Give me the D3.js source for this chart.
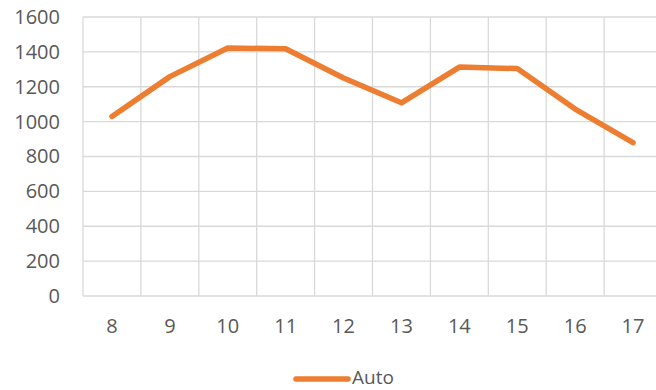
<!DOCTYPE html>
<html>
<head>
<meta charset="utf-8">
<script src="https://cdn.jsdelivr.net/npm/d3@7"></script>
<style>
  html, body { margin: 0; padding: 0; background: #fff; overflow: hidden; }
  text { font-family: "Open Sans", "Liberation Sans", sans-serif; fill: #595959; }
</style>
</head>
<body>
<svg id="chart" width="656" height="390"></svg>
<script>
const categories = ["8", "9", "10", "11", "12", "13", "14", "15", "16", "17"];
const seriesName = "Auto";
const autoValues = [1030, 1258, 1422, 1418, 1250, 1108, 1313, 1304, 1072, 880];
const yTicks = [0, 200, 400, 600, 800, 1000, 1200, 1400, 1600];

const svg = d3.select("#chart");
const plot = { left: 83, top: 17, right: 662, bottom: 296 };
const color = "#ED7D31";
const gridColor = "#d9d9d9";
const fontSize = "20px";

const x = d3.scaleBand().domain(categories).range([plot.left, plot.right]);
const y = d3.scaleLinear().domain([0, 1600]).range([plot.bottom, plot.top]);

// horizontal gridlines
svg.append("g").selectAll("line").data(yTicks).join("line")
  .attr("x1", plot.left).attr("x2", plot.right)
  .attr("y1", d => y(d)).attr("y2", d => y(d))
  .attr("stroke", gridColor).attr("stroke-width", 1.3);

// vertical gridlines at category boundaries
const bounds = categories.map(c => x(c)).concat([plot.right]);
svg.append("g").selectAll("line").data(bounds).join("line")
  .attr("x1", d => d).attr("x2", d => d)
  .attr("y1", plot.top).attr("y2", plot.bottom)
  .attr("stroke", gridColor).attr("stroke-width", 1.3);

// y axis labels
const yAxis = svg.append("g")
  .attr("transform", `translate(${plot.left},0)`)
  .call(d3.axisLeft(y).tickValues(yTicks).tickFormat(d3.format("d"))
    .tickSize(0).tickPadding(23));
yAxis.select(".domain").remove();
yAxis.selectAll("text").style("font-size", fontSize).attr("fill", "#595959")
  .style("font-family", "'Open Sans', sans-serif");

// x axis labels
const xAxis = svg.append("g")
  .attr("transform", `translate(0,${plot.bottom})`)
  .call(d3.axisBottom(x).tickSize(0).tickPadding(23));
xAxis.select(".domain").remove();
xAxis.selectAll("text").style("font-size", fontSize).attr("fill", "#595959")
  .style("font-family", "'Open Sans', sans-serif");

// series line
const line = d3.line()
  .x((d, i) => x(categories[i]) + x.bandwidth() / 2)
  .y(d => y(d));
svg.append("path").datum(autoValues)
  .attr("d", line)
  .attr("fill", "none")
  .attr("stroke", color)
  .attr("stroke-width", 5.5)
  .attr("stroke-linejoin", "round")
  .attr("stroke-linecap", "round");

// legend
const legend = svg.append("g").attr("transform", "translate(0,379)");
legend.append("line")
  .attr("x1", 296).attr("x2", 348).attr("y1", 0).attr("y2", 0)
  .attr("stroke", color).attr("stroke-width", 5.5).attr("stroke-linecap", "round");
legend.append("text")
  .attr("x", 352).attr("y", 5)
  .style("font-size", "19px")
  .text(seriesName);
</script>
</body>
</html>
